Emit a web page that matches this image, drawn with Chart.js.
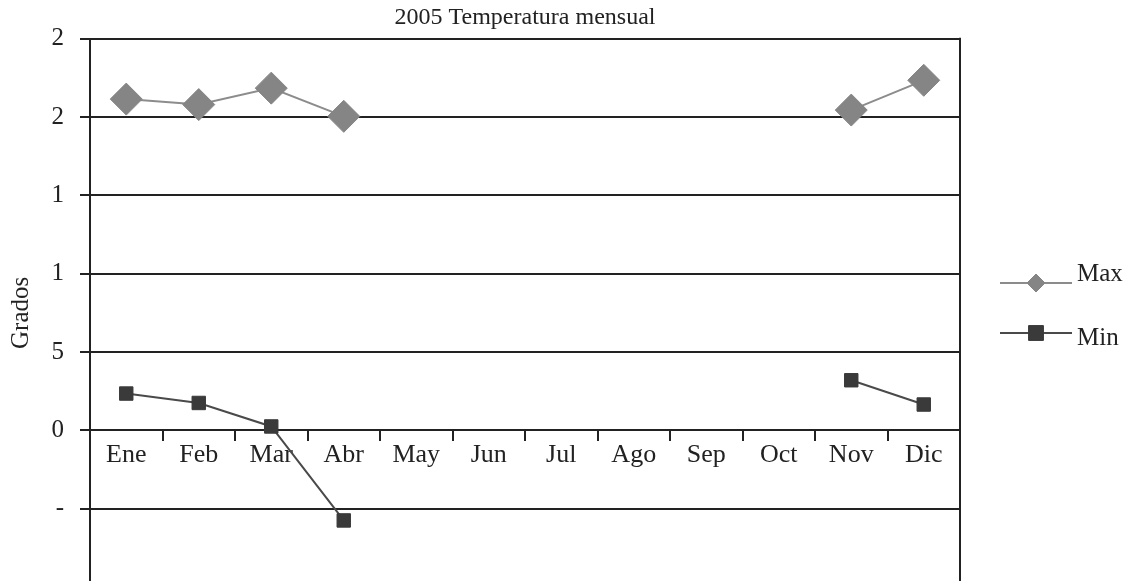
<!DOCTYPE html>
<html>
<head>
<meta charset="utf-8">
<script src="https://cdn.jsdelivr.net/npm/chart.js@4.4.1/dist/chart.umd.min.js"></script>
<style>
  html, body { margin: 0; padding: 0; background: #fff; overflow: hidden; }
  #wrap { width: 1134px; height: 618px; }
</style>
</head>
<body>
<div id="wrap"><canvas id="grafico" width="1134" height="618"></canvas></div>
<script>
const meses = ['Ene','Feb','Mar','Abr','May','Jun','Jul','Ago','Sep','Oct','Nov','Dic'];
const maximas = [21.15, 20.8, 21.85, 20.05, null, null, null, null, null, null, 20.45, 22.35];
const minimas = [2.35, 1.75, 0.25, -5.75, null, null, null, null, null, null, 3.2, 1.65];
const titulo = '2005 Temperatura mensual';
const tituloEje = 'Grados';

const serif = 'Liberation Serif, Times New Roman, serif';
const tinta = '#222';

// borde derecho del área del gráfico
const bordeDerecho = {
  id: 'bordeDerecho',
  afterDraw(chart) {
    const a = chart.chartArea, ctx = chart.ctx;
    ctx.save();
    ctx.strokeStyle = tinta;
    ctx.lineWidth = 2;
    ctx.beginPath();
    ctx.moveTo(a.right, a.top - 1);
    ctx.lineTo(a.right, a.bottom);
    ctx.stroke();
    ctx.restore();
  }
};

// leyenda: línea con marcador al centro, a la derecha
const leyenda = {
  id: 'leyenda',
  afterDraw(chart) {
    const ctx = chart.ctx;
    const x0 = chart.chartArea.right + 40;
    const largo = 72;
    const filas = [283, 333];
    const baseTexto = [-2, 12];
    chart.data.datasets.forEach((ds, i) => {
      const y = filas[i];
      ctx.save();
      ctx.strokeStyle = ds.borderColor;
      ctx.lineWidth = 2;
      ctx.beginPath();
      ctx.moveTo(x0, y);
      ctx.lineTo(x0 + largo, y);
      ctx.stroke();
      ctx.fillStyle = ds.pointBackgroundColor;
      ctx.strokeStyle = ds.pointBackgroundColor;
      ctx.lineWidth = 1;
      Chart.helpers.drawPoint(ctx, {
        pointStyle: ds.pointStyle, radius: ds.legendRadius, rotation: 0, borderWidth: 1
      }, x0 + largo / 2, y);
      ctx.fillStyle = tinta;
      ctx.font = '25px ' + serif;
      ctx.textBaseline = 'alphabetic';
      ctx.fillText(ds.label, x0 + largo + 5, y + baseTexto[i]);
      ctx.restore();
    });
  }
};

new Chart(document.getElementById('grafico'), {
  type: 'line',
  data: {
    labels: meses,
    datasets: [
      {
        label: 'Max',
        data: maximas,
        borderColor: '#8c8c8c',
        borderWidth: 2,
        pointStyle: 'rectRot',
        pointRadius: 16,
        pointBackgroundColor: '#858585',
        pointBorderColor: '#858585',
        pointBorderWidth: 1,
        legendRadius: 9,
        tension: 0,
        spanGaps: false
      },
      {
        label: 'Min',
        data: minimas,
        borderColor: '#4a4a4a',
        borderWidth: 2,
        pointStyle: 'rect',
        pointRadius: 9.5,
        pointBackgroundColor: '#3a3a3a',
        pointBorderColor: '#3a3a3a',
        pointBorderWidth: 1,
        legendRadius: 10.5,
        tension: 0,
        spanGaps: false
      }
    ]
  },
  options: {
    responsive: false,
    animation: false,
    devicePixelRatio: 1,
    layout: { padding: { left: 0, right: 174, top: 0, bottom: 0 } },
    scales: {
      x: {
        type: 'category',
        position: { y: 0 },
        offset: true,
        grid: { offset: true, drawOnChartArea: false, drawTicks: true, tickLength: 11, color: tinta, lineWidth: 2 },
        border: { display: false },
        ticks: { color: tinta, font: { family: serif, size: 26 }, padding: -2, maxRotation: 0, autoSkip: false }
      },
      y: {
        min: -10,
        max: 25,
        afterFit(s) { s.width = 90; },
        ticks: {
          stepSize: 5,
          color: tinta,
          padding: 16,
          font: { family: serif, size: 25 },
          callback: v => String(v).charAt(0)
        },
        grid: { color: tinta, lineWidth: 2, tickLength: 10 },
        border: { color: tinta, width: 2 },
        title: { display: true, text: tituloEje, color: tinta, font: { family: serif, size: 25 }, padding: { top: 6, bottom: 0 } }
      }
    },
    plugins: {
      legend: { display: false },
      tooltip: { enabled: false },
      title: {
        display: true,
        text: titulo,
        fullSize: false,
        color: tinta,
        font: { family: serif, size: 24, weight: 'normal' },
        padding: { top: 3, bottom: 7 }
      }
    }
  },
  plugins: [bordeDerecho, leyenda]
});
</script>
</body>
</html>
